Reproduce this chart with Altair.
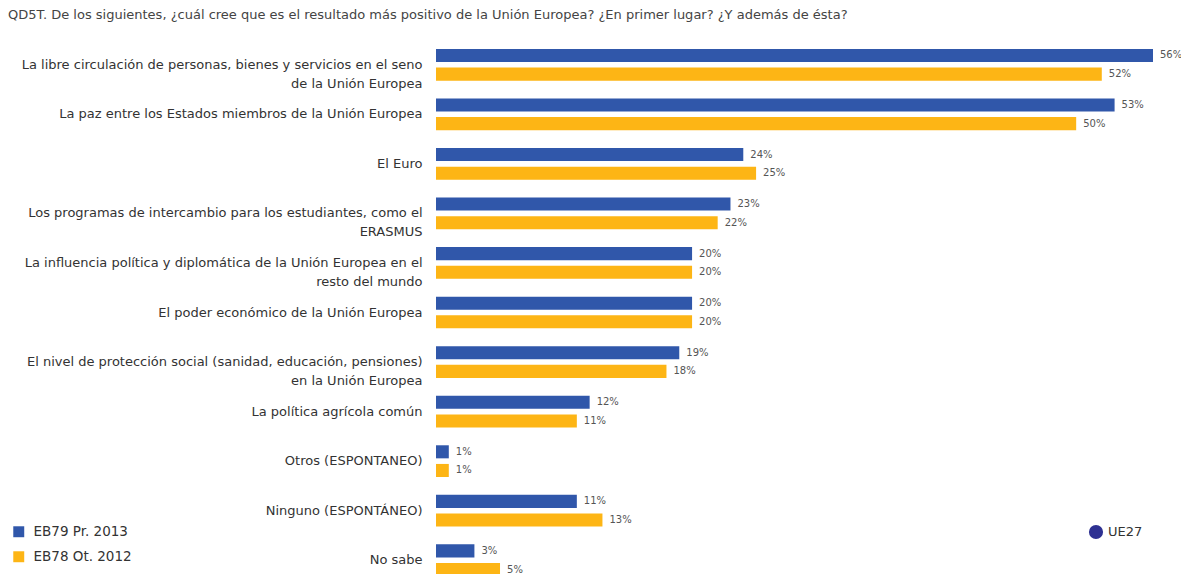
import altair as alt
import pandas as pd

categories = [
    "La libre circulación de personas, bienes y servicios en el seno|de la Unión Europea",
    "La paz entre los Estados miembros de la Unión Europea",
    "El Euro",
    "Los programas de intercambio para los estudiantes, como el|ERASMUS",
    "La influencia política y diplomática de la Unión Europea en el|resto del mundo",
    "El poder económico de la Unión Europea",
    "El nivel de protección social (sanidad, educación, pensiones)|en la Unión Europea",
    "La política agrícola común",
    "Otros (ESPONTANEO)",
    "Ninguno (ESPONTÁNEO)",
    "No sabe",
]
eb79 = [56, 53, 24, 23, 20, 20, 19, 12, 1, 11, 3]
eb78 = [52, 50, 25, 22, 20, 20, 18, 11, 1, 13, 5]
series = ["EB79 Pr. 2013", "EB78 Ot. 2012"]
colors = ["#3057AA", "#FDB515"]
title_text = ("QD5T. De los siguientes, ¿cuál cree que es el resultado más positivo de la "
              "Unión Europea? ¿En primer lugar? ¿Y además de ésta?")

FONT = "DejaVu Sans"

rows = []
for c, a, b in zip(categories, eb79, eb78):
    rows.append({"cat": c, "serie": series[0], "val": a})
    rows.append({"cat": c, "serie": series[1], "val": b})
df = pd.DataFrame(rows)
df["lab"] = df["val"].astype(str) + "%"

y = alt.Y("cat:N", sort=categories,
          axis=alt.Axis(title=None, domain=False, ticks=False, labelPadding=14,
                        labelFontSize=13, labelColor="#333", labelLimit=0,
                        labelLineHeight=19, labelExpr="split(datum.label, '|')"),
          scale=alt.Scale(paddingInner=0.36, paddingOuter=0.18))
yoff = alt.YOffset("serie:N", sort=series, scale=alt.Scale(paddingInner=0.3, paddingOuter=0))
x = alt.X("val:Q", scale=alt.Scale(domain=[0, 56], nice=False), axis=None)

base = alt.Chart(df)
bars = base.mark_bar().encode(
    y=y, yOffset=yoff, x=x,
    color=alt.Color("serie:N", scale=alt.Scale(domain=series, range=colors),
                    legend=alt.Legend(title=None, orient="none", legendX=-424, legendY=485,
                                      symbolType="square", symbolSize=120, labelFontSize=13.5,
                                      rowPadding=10, labelColor="#333", symbolStrokeWidth=0,
                                      labelOffset=8)),
)
texts = base.mark_text(align="left", baseline="middle", dx=7, fontSize=10, color="#555").encode(
    y=y, yOffset=yoff, x=x, text="lab:N"
)
ue = base.transform_filter("false").transform_calculate(k="'UE27'").mark_point(
    filled=True, color="#2e3192", size=200, opacity=1
).encode(
    shape=alt.Shape("k:N", scale=alt.Scale(domain=["UE27"], range=["circle"]),
                    legend=alt.Legend(title=None, orient="none", legendX=652, legendY=484,
                                      symbolFillColor="#2e3192", symbolStrokeColor="#1a1d70",
                                      symbolOpacity=1, symbolSize=200, labelFontSize=13,
                                      labelColor="#333"))
)

chart = alt.layer(bars, texts, ue).properties(
    width=717, height=545, autosize="none",
    padding={"left": 428, "top": 32, "right": 28, "bottom": 10},
    title=alt.TitleParams(text=title_text, anchor="start", frame="group", dx=-428, offset=18,
                          fontSize=13, fontWeight="normal", color="#444", font=FONT),
).configure(font=FONT).configure_view(stroke=None)

chart.save("out.html", embed_options={"renderer": "svg", "actions": False})
